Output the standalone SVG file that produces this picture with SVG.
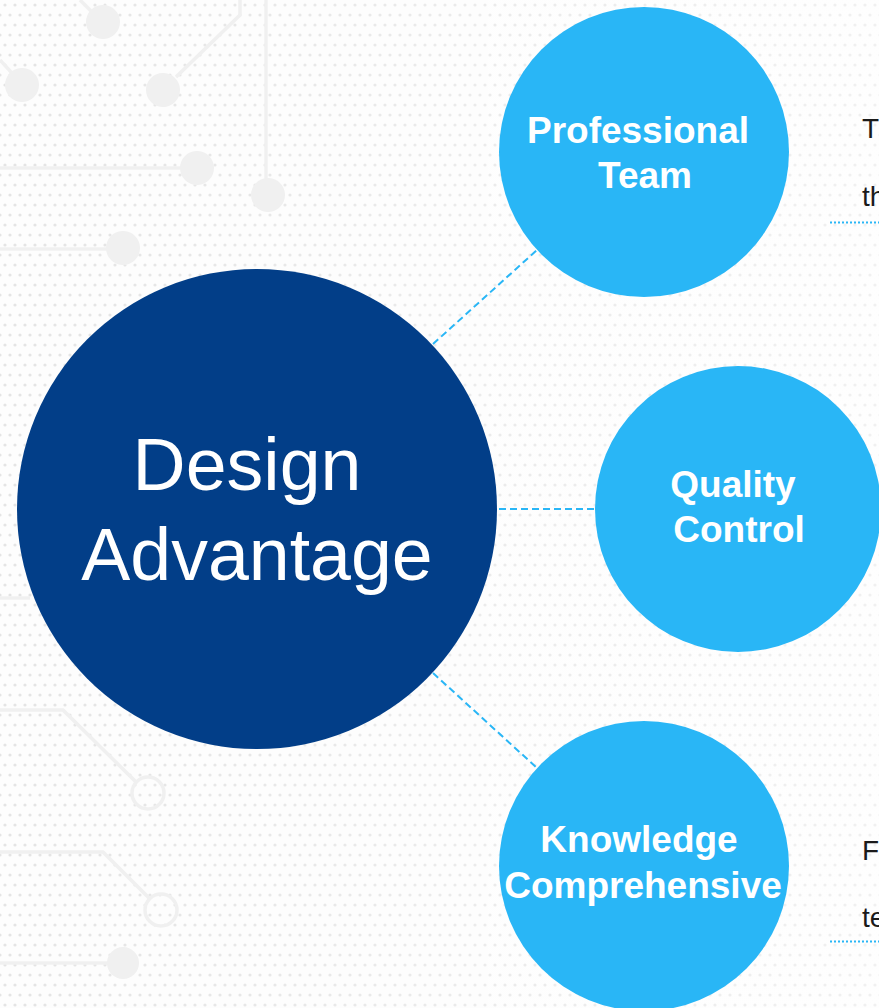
<svg xmlns="http://www.w3.org/2000/svg" width="879" height="1008" viewBox="0 0 879 1008">
<defs>
<pattern id="dots" x="0" y="0" width="20" height="20" patternUnits="userSpaceOnUse">
<circle cx="5" cy="5" r="1.6" fill="#e4e4e4"/>
<circle cx="15" cy="5" r="1.6" fill="#e4e4e4"/>
<circle cx="10" cy="15" r="1.6" fill="#e4e4e4"/>
<circle cx="0" cy="15" r="1.6" fill="#e4e4e4"/>
<circle cx="20" cy="15" r="1.6" fill="#e4e4e4"/>
</pattern>
<linearGradient id="fade" x1="0" y1="0" x2="1" y2="0">
<stop offset="0" stop-color="#fff" stop-opacity="0"/>
<stop offset="1" stop-color="#fff" stop-opacity="0.45"/>
</linearGradient>
<style>
.trace{stroke:#f0f0f0;stroke-width:3.5;fill:none}
.pad{fill:#f0f0f0}
.ring{fill:none;stroke:#f0f0f0;stroke-width:3.5}
.link{stroke:#29b6f6;stroke-width:2;stroke-dasharray:7 4;fill:none}
.sub{fill:#29b6f6}
.lbl{font-family:"Liberation Sans",Arial,sans-serif;font-weight:bold;font-size:37px;fill:#ffffff;text-anchor:middle}
.main{font-family:"Liberation Sans",Arial,sans-serif;font-size:73.5px;fill:#ffffff;text-anchor:middle}
.side{font-family:"Liberation Sans",Arial,sans-serif;font-size:28px;fill:#1a1a1a}
.dotline{stroke:#29b6f6;stroke-width:2;stroke-dasharray:2 2;fill:none}
</style>
</defs>
<g id="background">
<rect width="879" height="1008" fill="#fdfdfd"/>
<rect width="879" height="1008" fill="url(#dots)"/>
<rect width="879" height="1008" fill="url(#fade)"/>
<path class="trace" d="M80 0 L100 20"/>
<path class="trace" d="M0 60 L20 82"/>
<path class="trace" d="M176 77 L240 15 L240 0"/>
<path class="trace" d="M266 0 L266 190"/>
<path class="trace" d="M0 168 L185 168"/>
<path class="trace" d="M0 249 L110 249"/>
<circle class="pad" cx="103" cy="22" r="17"/>
<circle class="pad" cx="22" cy="85" r="17"/>
<circle class="pad" cx="163" cy="90" r="17"/>
<circle class="pad" cx="197" cy="168" r="17"/>
<circle class="pad" cx="268" cy="195" r="17"/>
<circle class="pad" cx="123" cy="248" r="17"/>
<path class="trace" d="M0 598 L30 598"/>
<path class="trace" d="M0 710 L63 710 L136 782"/>
<circle class="ring" cx="148" cy="793" r="16"/>
<path class="trace" d="M0 852 L103 852 L150 899"/>
<circle class="ring" cx="161" cy="910" r="16"/>
<path class="trace" d="M0 963 L108 963"/>
<circle class="pad" cx="123" cy="963" r="16"/>
</g>
<g id="connectors">
<line class="link" x1="433" y1="344" x2="537" y2="250"/>
<line class="link" x1="499" y1="509" x2="595" y2="509"/>
<line class="link" x1="433" y1="673" x2="537" y2="768"/>
</g>
<g id="node-design-advantage">
<circle cx="257" cy="509" r="240" fill="#023e88"/>
<text class="main" x="247" y="490">Design</text>
<text class="main" x="257" y="580">Advantage</text>
</g>
<g id="node-professional-team">
<circle class="sub" cx="644" cy="152" r="145"/>
<text class="lbl" x="638" y="143">Professional</text>
<text class="lbl" x="645" y="188">Team</text>
</g>
<g id="node-quality-control">
<circle class="sub" cx="738" cy="509" r="143"/>
<text class="lbl" x="733" y="497">Quality</text>
<text class="lbl" x="739" y="542">Control</text>
</g>
<g id="node-knowledge-comprehensive">
<circle class="sub" cx="644" cy="866" r="145"/>
<text class="lbl" x="639" y="852">Knowledge</text>
<text class="lbl" x="643" y="898">Comprehensive</text>
</g>
<g id="side-text-top">
<text class="side" x="862" y="138">T</text>
<text class="side" x="862" y="206">th</text>
<line class="dotline" x1="830" y1="222.5" x2="879" y2="222.5"/>
</g>
<g id="side-text-bottom">
<text class="side" x="862" y="860">F</text>
<text class="side" x="862" y="927">te</text>
<line class="dotline" x1="830" y1="941.5" x2="879" y2="941.5"/>
</g>
</svg>
